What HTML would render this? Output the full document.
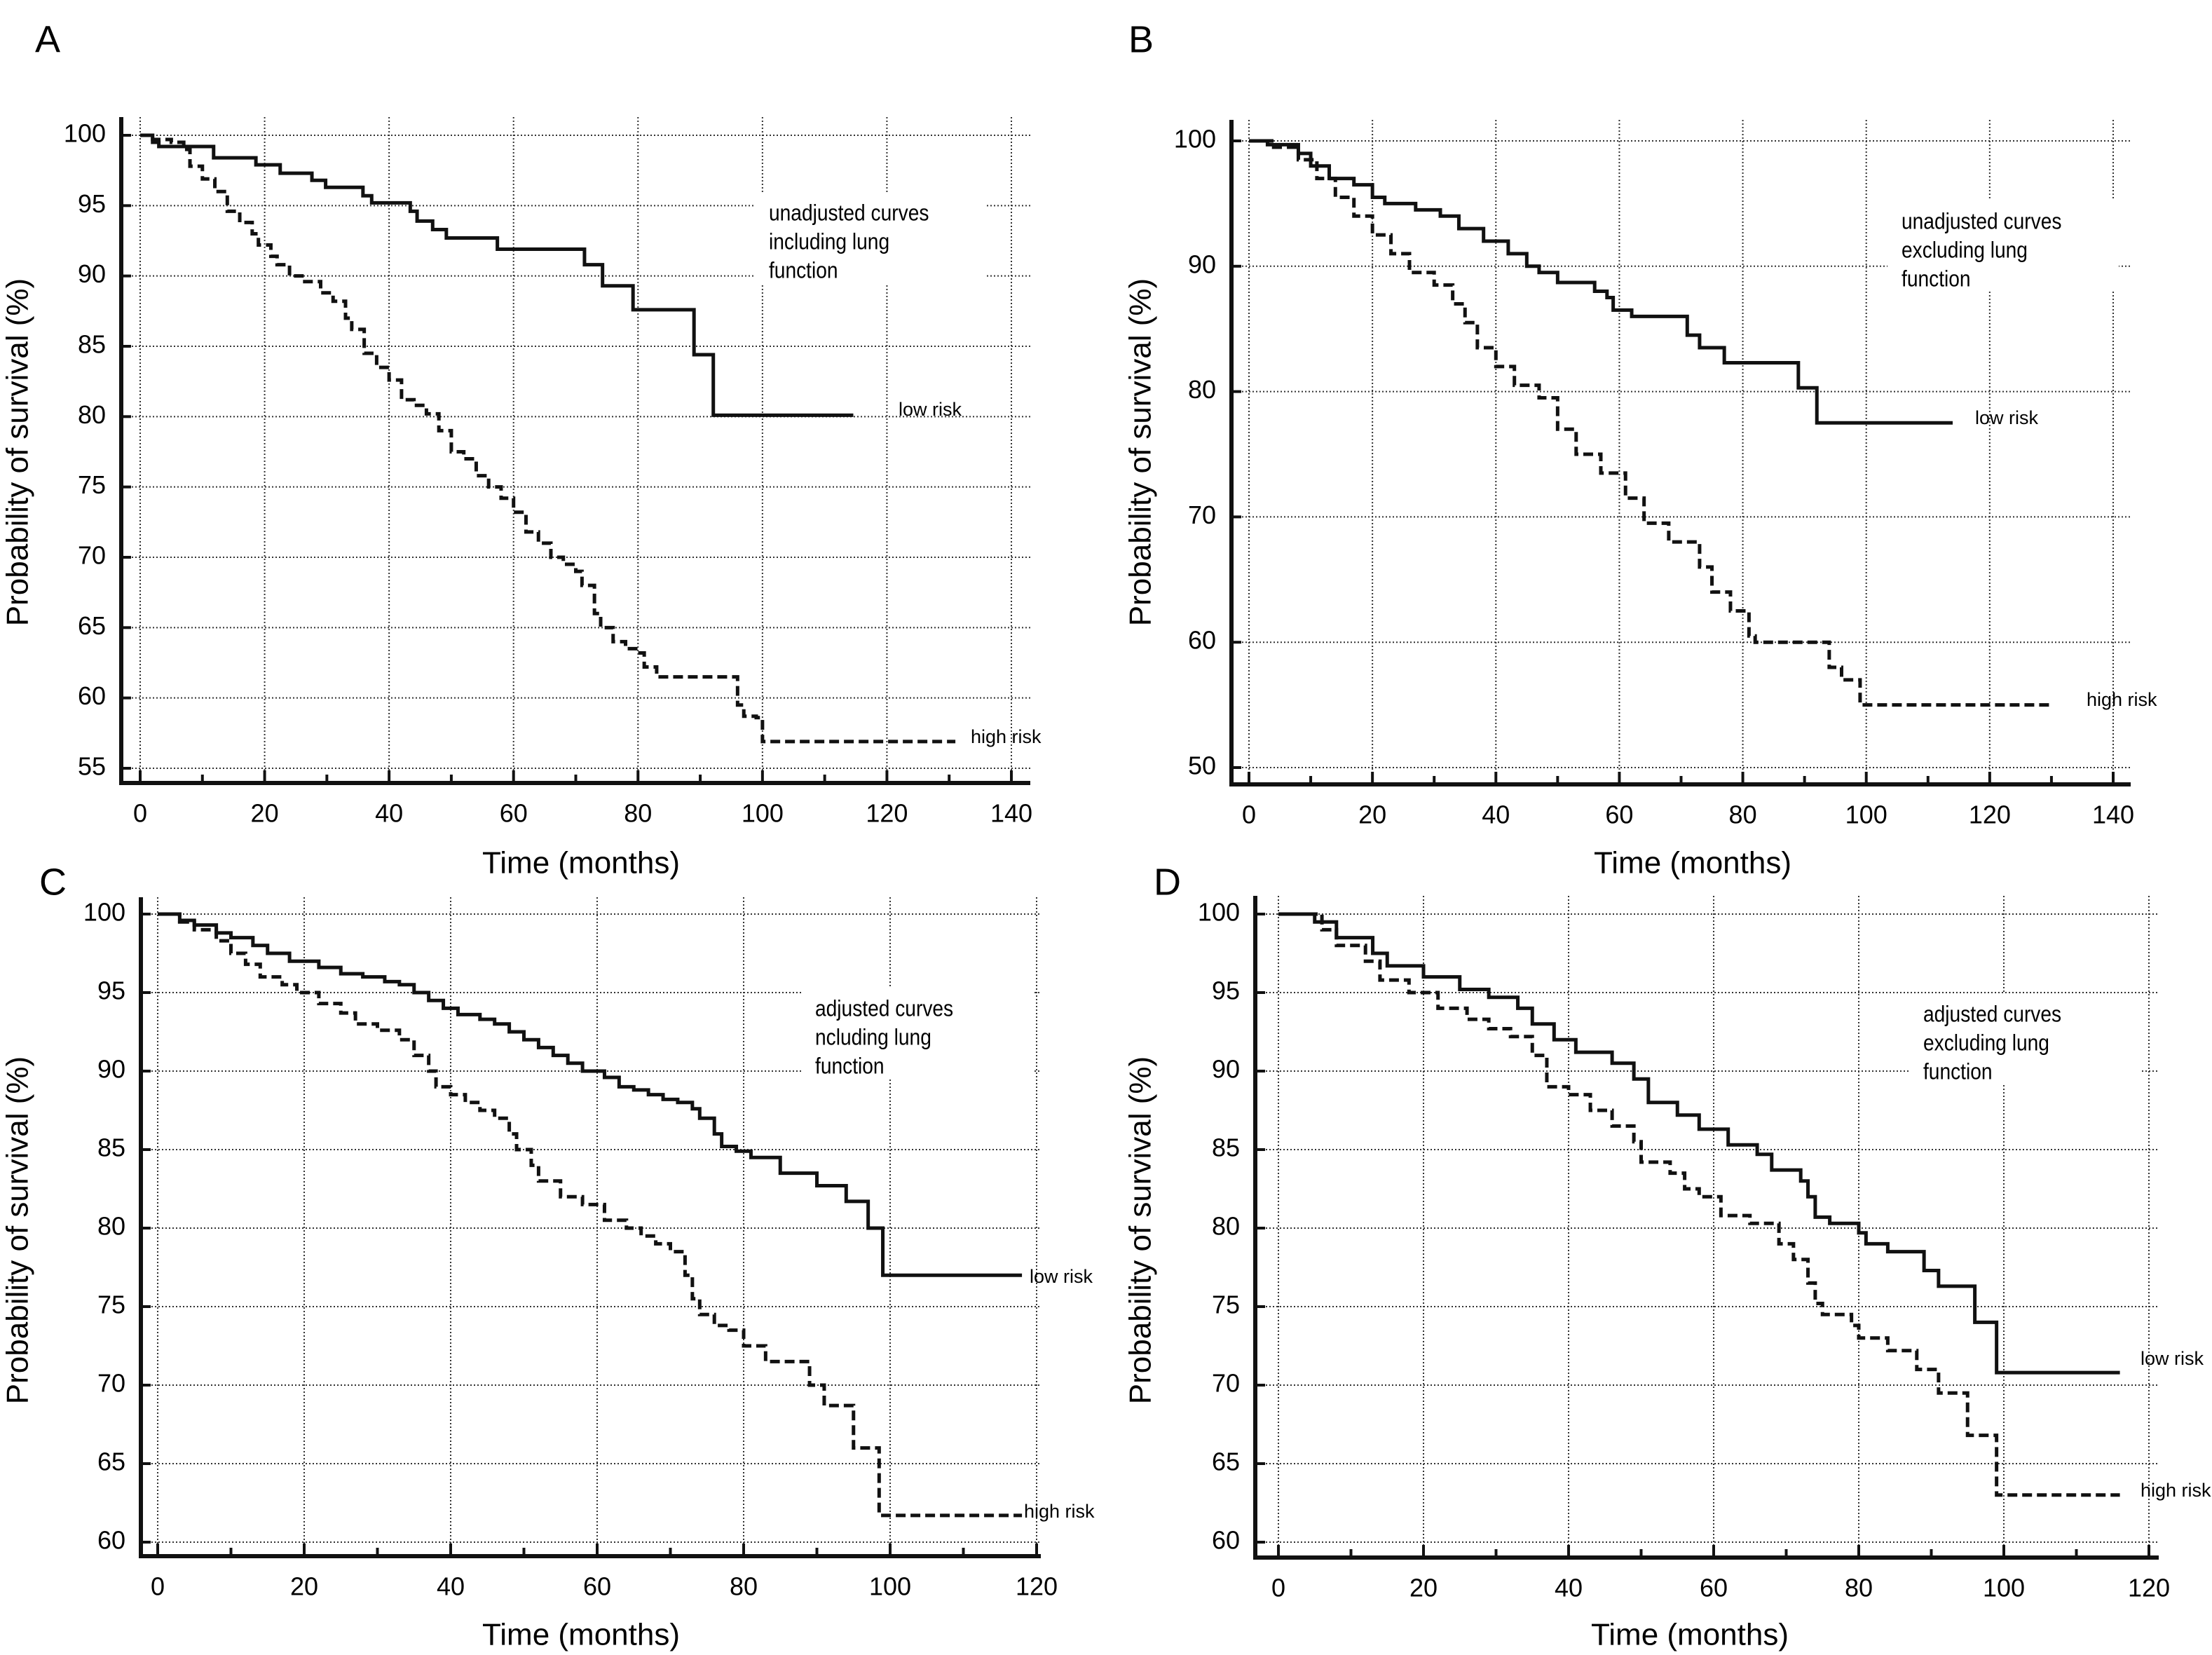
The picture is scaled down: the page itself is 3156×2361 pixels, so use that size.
<!DOCTYPE html>
<html><head><meta charset="utf-8"><style>
html,body{margin:0;padding:0;background:#fff;}
svg{display:block;font-family:"Liberation Sans",sans-serif;}
</style></head><body>
<svg id="fig" width="3156" height="2361" viewBox="0 0 3156 2361" xmlns="http://www.w3.org/2000/svg"></svg>
<script>
// ---- data ----
const aLowT=[0,2,3,11.8,18.6,22.5,27.6,29.8,35.8,37.2,43.4,44.5,47,49.2,57.4,71.4,74.3,79.2,89,92.1,114.6];
const aLowV=[100,99.5,99.2,98.4,97.9,97.3,96.8,96.3,95.7,95.2,94.6,93.9,93.3,92.7,91.9,90.8,89.3,87.6,84.4,80.1,80.1];
const aHighT=[0,2,5,7,8,10,12,14,16,18,19,21,22,24,26,29,31,33,34,36,38,40,42,44,46,48,50,52,54,56,58,60,62,64,66,68,70,71,73,74,76,78,80,81,83,95,96,97,99,100,131];
const aHighV=[100,99.7,99.5,99,97.8,96.9,96,94.6,93.8,93,92.2,91.4,90.8,90,89.6,88.8,88.2,87,86.2,84.5,83.5,82.6,81.2,80.8,80.2,79,77.5,77,75.8,75,74.2,73.2,71.8,71,70,69.5,69,68,66,65,64,63.5,63.2,62.2,61.5,61.5,59.5,58.7,58.6,56.9,56.9];
const bLowT=[0,3,8,10,13,17,20,22,27,31,34,38,42,45,47,50,56,58,59,62,71,73,77,89,92,114];
const bLowV=[100,99.7,99,98,97,96.5,95.5,95,94.5,94,93,92,91,90,89.5,88.7,88,87.5,86.5,86,84.5,83.5,82.3,80.3,77.5,77.5];
const bHighT=[0,4,8,11,14,17,20,23,26,30,33,35,37,40,43,47,50,53,57,61,64,68,73,75,78,81,82,94,96,99,130];
const bHighV=[100,99.5,98.5,97,95.5,94,92.5,91,89.5,88.5,87,85.5,83.5,82,80.5,79.5,77,75,73.5,71.5,69.5,68,66,64,62.5,60.5,60,58,57,55,55];
const cLowT=[0,3,5,8,10,13,15,18,22,25,28,31,33,35,37,39,41,44,46,48,50,52,54,56,58,61,63,65,67,69,71,73,74,76,77,79,81,85,90,94,97,99,118];
const cLowV=[100,99.6,99.3,98.8,98.5,98,97.5,97,96.6,96.2,96,95.7,95.5,95,94.5,94,93.6,93.3,93,92.5,92,91.5,91,90.5,90,89.6,89,88.8,88.5,88.2,88,87.6,87,86,85.2,84.9,84.5,83.5,82.7,81.7,80,77,77];
const cHighT=[0,3,5,8,10,12,14,17,19,22,25,27,30,33,35,37,38,40,42,44,46,48,49,51,52,55,58,61,64,66,68,70,72,73,74,76,78,80,83,89,91,95,98.5,118];
const cHighV=[100,99.5,99,98.3,97.5,96.8,96,95.5,95,94.3,93.7,93,92.6,92,91,90,89,88.5,88,87.5,87,86,85,84,83,82,81.5,80.5,80,79.5,79,78.5,77,75.5,74.5,73.8,73.5,72.5,71.5,70,68.7,66,61.7,61.7];
const dLowT=[0,5,8,13,15,20,25,29,33,35,38,41,46,49,51,55,58,62,66,68,72,73,74,76,80,81,84,89,91,96,99,116];
const dLowV=[100,99.5,98.5,97.5,96.7,96,95.2,94.7,94,93,92,91.2,90.5,89.5,88,87.2,86.3,85.3,84.7,83.7,83,82,80.7,80.3,79.7,79,78.5,77.3,76.3,74,70.8,70.8];
const dHighT=[0,6,8,12,14,18,22,26,29,32,35,37,40,43,46,49,50,54,56,58,61,65,69,71,73,74,75,79,80,84,88,91,95,99,116];
const dHighV=[100,99,98,97,95.8,95,94,93.3,92.7,92.2,91,89,88.5,87.5,86.5,85.5,84.2,83.5,82.5,82,80.8,80.3,79,78,76.5,75.2,74.5,73.8,73,72.2,71,69.5,66.8,63,63];
const aYTicks=[55,60,65,70,75,80,85,90,95,100];
const bYTicks=[50,60,70,80,90,100];
const cdYTicks=[60,65,70,75,80,85,90,95,100];
const abXTicks=[0,20,40,60,80,100,120,140];
const cdXTicks=[0,20,40,60,80,100,120];

const NS="http://www.w3.org/2000/svg";
const svg=document.getElementById('fig');
function mk(tag,attrs,parent){const e=document.createElementNS(NS,tag);for(const k in attrs)e.setAttribute(k,attrs[k]);(parent||svg).appendChild(e);return e;}

const panels=[
 {id:'a',letter:'A',lx:50,ly:40,ax:173,top:167,bottom:1117,right:1470,x0:200,x1:1443,xmax:140,ymin:55,ymax:100,y0:193,y1:1096,yT:aYTicks,xT:abXTicks,
  low:[aLowT,aLowV],high:[aHighT,aHighV],ann:['unadjusted curves','including lung','function'],annX:1097,annY:306,lowL:[1282,586],highL:[1385,1053],xt:[829,1234],yt:[28,645]},
 {id:'b',letter:'B',lx:1610,ly:40,ax:1757,top:171,bottom:1119,right:3040,x0:1782,x1:3015,xmax:140,ymin:50,ymax:100,y0:201,y1:1095,yT:bYTicks,xT:abXTicks,
  low:[bLowT,bLowV],high:[bHighT,bHighV],ann:['unadjusted curves','excluding lung','function'],annX:2713,annY:318,lowL:[2818,598],highL:[2977,1000],xt:[2415,1234],yt:[1630,645]},
 {id:'c',letter:'C',lx:56,ly:1242,ax:201,top:1280,bottom:2220,right:1485,x0:225,x1:1479,xmax:120,ymin:60,ymax:100,y0:1304,y1:2200,yT:cdYTicks,xT:cdXTicks,
  low:[cLowT,cLowV],high:[cHighT,cHighV],ann:['adjusted curves','ncluding lung','function'],annX:1163,annY:1441,lowL:[1469,1823],highL:[1461,2158],xt:[829,2335],yt:[28,1755]},
 {id:'d',letter:'D',lx:1646,ly:1242,ax:1791,top:1278,bottom:2222,right:3080,x0:1824,x1:3066,xmax:120,ymin:60,ymax:100,y0:1304,y1:2200,yT:cdYTicks,xT:cdXTicks,
  low:[dLowT,dLowV],high:[dHighT,dHighV],ann:['adjusted curves','excluding lung','function'],annX:2744,annY:1449,lowL:[3054,1940],highL:[3054,2128],xt:[2411,2335],yt:[1630,1755]}
];

panels.forEach(p=>{
  const g=mk('g',{});
  
  
  const X=t=>p.x0+(t/p.xmax)*(p.x1-p.x0);
  const Y=v=>p.y0+(p.ymax-v)/(p.ymax-p.ymin)*(p.y1-p.y0);
  const lt=mk('text',{x:p.lx,y:p.ly+20,'font-size':54,'dominant-baseline':'middle'},g);lt.textContent=p.letter;
  
  
  p.yT.forEach(v=>{const l=mk('line',{x1:p.ax,x2:p.right,y1:Y(v),y2:Y(v),stroke:'#333','stroke-width':2,'stroke-dasharray':'2,3'},g);
    
    });
  p.xT.forEach(t=>{const l=mk('line',{x1:X(t),x2:X(t),y1:p.top,y2:p.bottom,stroke:'#333','stroke-width':2,'stroke-dasharray':'2,3'},g);
    
    });
  const fs=32;
  mk('rect',{x:p.annX-20,y:p.annY-32,width:330,height:130,fill:'#fff'},g);
  p.ann.forEach((s,i)=>{const t=mk('text',{x:p.annX,y:p.annY+i*41,'font-size':fs,'dominant-baseline':'middle',transform:`translate(${p.annX} 0) scale(0.88 1) translate(${-p.annX} 0)`},g);t.textContent=s;
    
    });
  const ya=mk('line',{x1:p.ax,x2:p.ax,y1:p.top,y2:p.bottom,stroke:'#111','stroke-width':6},g);
  
  
  const xa=mk('line',{x1:p.ax-3,x2:p.right,y1:p.bottom,y2:p.bottom,stroke:'#111','stroke-width':6},g);
  
  
  p.yT.forEach(v=>{mk('line',{x1:p.ax,x2:p.ax+14,y1:Y(v),y2:Y(v),stroke:'#111','stroke-width':4},g);
    const t=mk('text',{x:p.ax-22,y:Y(v),'font-size':36,'text-anchor':'end','dominant-baseline':'middle'},g);t.textContent=v;
    
    });
  for(let t=0;t<=p.xmax;t+=10){mk('line',{x1:X(t),x2:X(t),y1:p.bottom,y2:p.bottom-(t%20===0?18:12),stroke:'#111','stroke-width':4},g);}
  p.xT.forEach(t=>{const e=mk('text',{x:X(t),y:p.bottom+46,'font-size':36,'text-anchor':'middle','dominant-baseline':'middle'},g);e.textContent=t;
    
    });
  const xt=mk('text',{x:p.xt[0],y:p.xt[1],'font-size':44,'text-anchor':'middle','dominant-baseline':'middle'},g);xt.textContent='Time (months)';
  
  
  const yt=mk('text',{x:p.yt[0],y:p.yt[1],'font-size':44,'text-anchor':'middle','dominant-baseline':'middle',transform:`rotate(-90 ${p.yt[0]} ${p.yt[1]})`},g);yt.textContent='Probability of survival (%)';
  
  
  function step(T,V){let d=`M${X(T[0])},${Y(V[0])}`;for(let i=1;i<T.length;i++){d+=` H${X(T[i])} V${Y(V[i])}`;}return d;}
  const lo=mk('path',{d:step(p.low[0],p.low[1]),fill:'none',stroke:'#111','stroke-width':5},g);
  
  
  const hi=mk('path',{d:step(p.high[0],p.high[1]),fill:'none',stroke:'#111','stroke-width':5,'stroke-dasharray':'14,7'},g);
  
  
  const l1=mk('text',{x:p.lowL[0],y:p.lowL[1],'font-size':27,'dominant-baseline':'middle'},g);l1.textContent='low risk';
  
  
  const l2=mk('text',{x:p.highL[0],y:p.highL[1],'font-size':27,'dominant-baseline':'middle'},g);l2.textContent='high risk';
  
  
});
</script>
</body></html>
